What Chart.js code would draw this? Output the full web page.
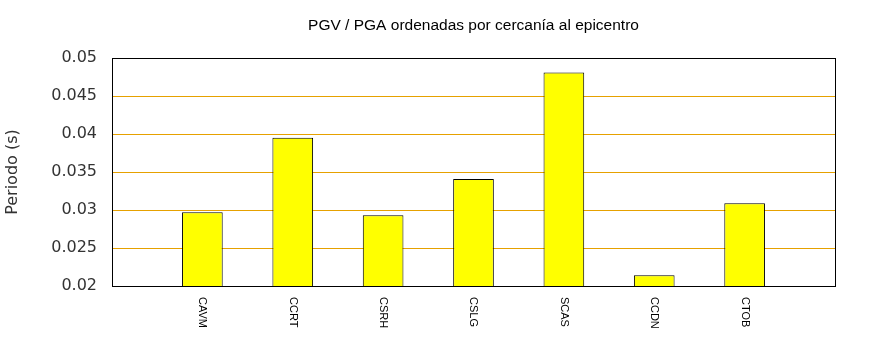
<!DOCTYPE html>
<html>
<head>
<meta charset="utf-8">
<script src="https://cdn.jsdelivr.net/npm/chart.js@4.4.1/dist/chart.umd.min.js"></script>
<style>
  html, body { margin: 0; padding: 0; background: #fff; }
  #wrap { width: 870px; height: 350px; }
</style>
</head>
<body>
<div id="wrap"><canvas id="pgvChart"></canvas></div>
<script>
// Stations sorted by distance to the epicentre; empty slots pad the x range
const stations = ['', 'CAVM', 'CCRT', 'CSRH', 'CSLG', 'SCAS', 'CCDN', 'CTOB', ''];
const periods = [null, 0.0297, 0.0395, 0.0293, 0.0341, 0.0481, 0.0214, 0.0309, null];
const yTicks = [0.02, 0.025, 0.03, 0.035, 0.04, 0.045, 0.05];

// Rotated station names under the axis + closing the top/right of the frame
const framePlugin = {
  id: 'frame',
  afterDraw(chart) {
    const { ctx, chartArea } = chart;
    const x = chart.scales.x;
    ctx.save();
    ctx.strokeStyle = '#000';
    ctx.lineWidth = 1;
    ctx.strokeRect(Math.round(chartArea.left) + 0.5, Math.round(chartArea.top) + 0.5,
      Math.round(chartArea.right - chartArea.left), Math.round(chartArea.bottom - chartArea.top));

    ctx.fillStyle = '#000';
    ctx.font = '11px "Liberation Sans", Arial, sans-serif';
    ctx.textAlign = 'left';
    ctx.textBaseline = 'middle';
    stations.forEach((name, i) => {
      if (!name) return;
      ctx.save();
      ctx.translate(x.getPixelForValue(i), chartArea.bottom + 11);
      ctx.rotate(Math.PI / 2);
      ctx.fillText(name, 0, 0);
      ctx.restore();
    });
    ctx.restore();
  }
};

const ctx = document.getElementById('pgvChart').getContext('2d');

new Chart(ctx, {
  type: 'bar',
  data: {
    labels: stations,
    datasets: [{
      data: periods,
      backgroundColor: '#ffff00',
      borderColor: '#000',
      borderWidth: 1,
      barPercentage: 0.45,
      categoryPercentage: 1
    }]
  },
  options: {
    responsive: true,
    maintainAspectRatio: false,
    animation: false,
    layout: { padding: { left: 0, right: 35, top: 0, bottom: 0 } },
    plugins: {
      legend: { display: false },
      tooltip: { enabled: false },
      title: {
        display: true,
        text: 'PGV / PGA ordenadas por cercanía al epicentro',
        color: '#000',
        fullSize: false,
        font: { family: '"Liberation Sans", Arial, sans-serif', size: 15.5, weight: 'normal' },
        padding: { top: 16.5, bottom: 23 }
      }
    },
    scales: {
      x: {
        offset: false,
        grid: { display: false },
        border: { display: true, color: '#000' },
        ticks: { display: false },
        afterFit(scale) { scale.height = 64; }
      },
      y: {
        min: 0.02,
        max: 0.05,
        afterBuildTicks(scale) { scale.ticks = yTicks.map(v => ({ value: v })); },
        grid: {
          drawTicks: false,
          color: c => (c.index === 0 || c.index === yTicks.length - 1) ? 'rgba(0,0,0,0)' : '#e6a100'
        },
        border: { display: true, color: '#000' },
        ticks: {
          padding: 15,
          color: '#333',
          font: { family: '"DejaVu Sans", sans-serif', size: 16 },
          callback: v => Number(v.toFixed(3)).toString()
        },
        title: {
          display: true,
          text: 'Periodo (s)',
          color: '#333',
          font: { family: '"DejaVu Sans", sans-serif', size: 16 },
          padding: { top: 3, bottom: 0 }
        },
        afterFit(scale) { scale.width = 112; }
      }
    }
  },
  plugins: [framePlugin]
});
</script>
</body>
</html>
